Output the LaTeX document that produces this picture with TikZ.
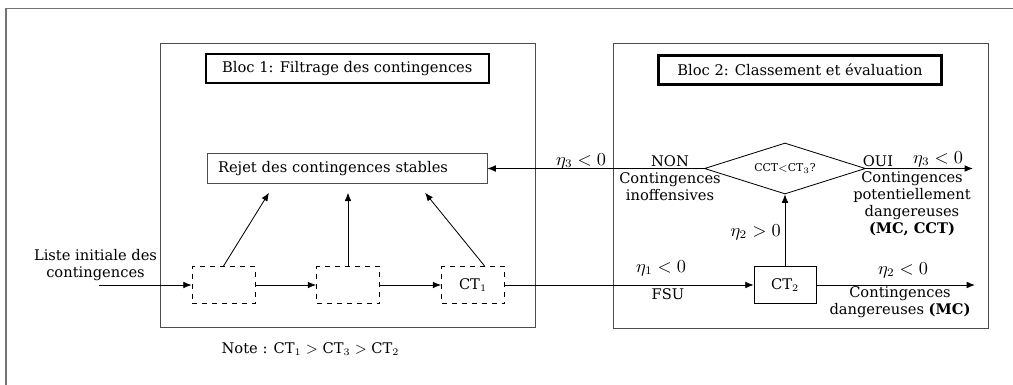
\documentclass[tikz,border=0pt]{standalone}
\usepackage{fontspec}
\setmainfont{DejaVu Serif}
\usetikzlibrary{shapes.geometric,arrows.meta}

\tikzset{
  cadre/.style={draw=black!55, line width=1.1pt},
  bloc/.style={draw=black!70, line width=0.6pt},
  titre/.style={draw, line width=1.3pt, minimum width=169.8pt, minimum height=17.4pt, inner sep=0pt},
  rejet/.style={draw=black!70, line width=0.5pt, minimum width=168pt, minimum height=18pt, inner xsep=6.6pt, inner ysep=0pt, text width=154.8pt, align=left},
  filtre/.style={draw, dashed, line width=0.5pt, minimum width=37.8pt, minimum height=22.2pt, inner sep=0pt},
  classe/.style={draw, line width=0.5pt, minimum width=37.2pt, minimum height=22.2pt, inner sep=0pt},
  test/.style={draw, diamond, aspect=3.2, line width=0.5pt, minimum width=96.6pt, minimum height=30.6pt, inner sep=0pt},
  fleche/.style={-{Latex[length=5pt,width=4pt]}, line width=0.5pt},
  lbl/.style={align=center, inner sep=0pt},
  eta/.style={inner sep=0pt, font=\fontsize{10.5}{11}\selectfont},
}

\begin{document}
\begin{tikzpicture}[x=0.6pt, y=-0.6pt, font=\fontsize{8.8}{10.2}\selectfont]
    \useasboundingbox (0,0) rectangle (1013,385);
    % outer frame
    \draw[cadre] (1013,8.5) -| (5.7,385);
    % blocks
    \draw[bloc] (160.7,43.3) rectangle (535.7,327);
    \draw[bloc] (613,43.3) rectangle (988,328);
    \node[titre] (titre1) at (347.3,68.5) {Bloc 1: Filtrage des contingences};
    \node[titre] (titre2) at (800,70) {Bloc 2: Classement et \'evaluation};

    % bloc 1
    \node[rejet] (rejet) at (347,168.5) {Rejet des contingences stables};
    \node[filtre] (f1) at (223.5,285) {};
    \node[filtre] (f2) at (348,285) {};
    \node[filtre] (f3) at (473,285) {CT$_1$};
    \coordinate (entree) at (99,285);
    \coordinate (r1) at (269,192.7);
    \coordinate (r2) at (348,192.7);
    \coordinate (r3) at (425,192.7);
    \coordinate (d3) at (485,266.5);
    \node[lbl] (liste) at (95.5,265) {Liste initiale des\\contingences};
    \draw[fleche] (entree) -- (f1);
    \draw[fleche] (f1) -- (f2);
    \draw[fleche] (f2) -- (f3);
    \draw[fleche] (f1.north) -- (r1);
    \draw[fleche] (f2.north) -- (r2);
    \draw[fleche] (d3) -- (r3);
    \node[lbl] (note) at (310.5,349.3) {Note : CT$_1 >$ CT$_3 >$ CT$_2$};

    % bloc 2
    \node[test] (cct) at (785,168.5) {\fontsize{6.5}{7}\selectfont CCT$<$CT$_3$?};
    \node[classe] (ct2) at (785,285) {CT$_2$};
    \coordinate (sortie1) at (973,168.5);
    \coordinate (sortie2) at (975,285);
    \draw[fleche] (f3) -- (ct2);
    \draw[fleche] (ct2) -- (sortie2);
    \draw[fleche] (ct2) -- (cct);
    \draw[fleche] (cct.west) -- (rejet.east);
    \draw[fleche] (cct.east) -- (sortie1);

    \node[eta] (eta3a) at (581,161) {$\eta_3 < 0$};
    \node[lbl] (non) at (670,161) {NON};
    \node[lbl] (inoff) at (670,187) {Contingences\\inoffensives};
    \node[lbl] (oui) at (878,161) {OUI};
    \node[eta] (eta3b) at (938,159) {$\eta_3 < 0$};
    \node[lbl] (potent) at (912,204) {Contingences\\potentiellement\\dangereuses\\\textbf{(MC, CCT)}};
    \node[eta, anchor=east] (eta2a) at (781,232) {$\eta_2 > 0$};
    \node[eta] (eta1) at (661,268) {$\eta_1 < 0$};
    \node[lbl] (fsu) at (668,294) {FSU};
    \node[eta] (eta2b) at (903,270) {$\eta_2 < 0$};
    \node[lbl] (dang) at (900,302) {Contingences\\dangereuses \textbf{(MC)}};
\end{tikzpicture}
\end{document}
